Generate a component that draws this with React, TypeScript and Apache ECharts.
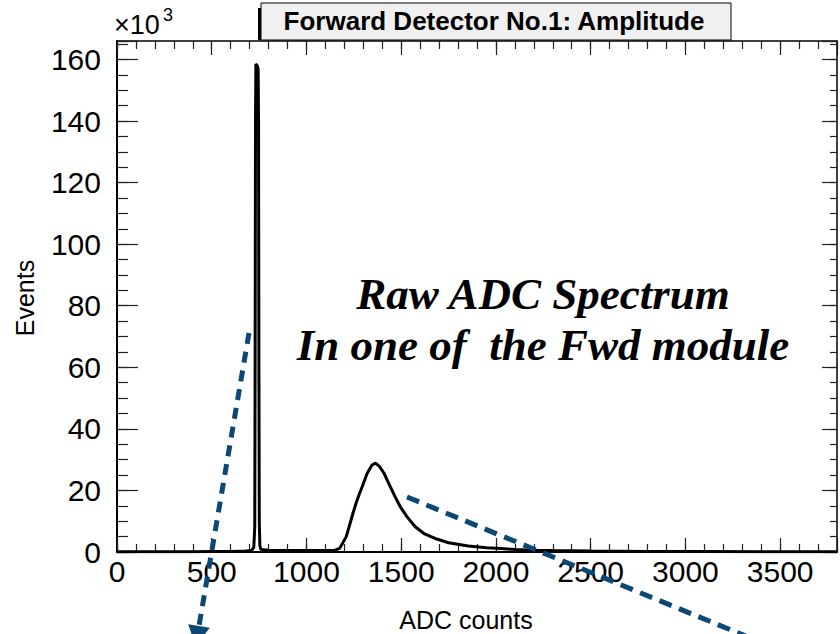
import React, { useEffect, useRef } from "react";
import * as echarts from "echarts";

// ADC channel (x) and events in thousands (y)
const adc = [
  0, 100, 200, 300, 400, 500, 600, 680, 710, 722, 727, 729, 731, 733, 740, 745, 747, 749, 751, 754, 760,
  800, 900, 1000, 1100, 1150, 1175, 1190, 1210, 1225, 1245, 1262, 1280, 1294, 1320, 1345, 1364, 1385,
  1410, 1434, 1465, 1495, 1530, 1574, 1620, 1679, 1750, 1854, 1950, 2028, 2100, 2200, 2300, 2500, 2800,
  3100, 3500, 3800,
];
const events = [
  0.1, 0.1, 0.1, 0.1, 0.1, 0.15, 0.2, 0.3, 0.5, 1.5, 8, 60, 140, 158.5, 158, 157, 140, 60, 10, 2, 0.8,
  0.6, 0.5, 0.5, 0.5, 0.6, 1.2, 2.8, 5, 8.2, 12.5, 15.9, 19, 21.2, 25.5, 28.2, 28.9, 27.8,
  25.5, 22.3, 18.3, 14.7, 11.5, 8.2, 6.0, 4.4, 3.0, 1.95, 1.4, 1.1, 0.8, 0.6, 0.45, 0.3, 0.2,
  0.15, 0.1, 0.08,
];

const xMin = 0;
const xMax = 3800;
const xMajor = 500;
const xMinor = 100;
const yMin = 0;
const yMax = 166;
const yMajor = 20;
const yMinor = 5;

const titleText = "Forward Detector No.1: Amplitude";
const xTitle = "ADC counts";
const yTitle = "Events";
const noteLine1 = "Raw ADC Spectrum";
const noteLine2 = "In one of  the Fwd module";

const SANS = "'Liberation Sans', Arial, Helvetica, sans-serif";
const SERIF = "'Liberation Serif', 'DejaVu Serif', serif";
const ARROW = "#0a4876";

export default function App() {
  const ref = useRef<HTMLDivElement>(null);
  useEffect(() => {
    if (!ref.current) return;
    const chart = echarts.init(ref.current, undefined, { renderer: "svg" });

    const xAx = (pos: string, interval: number, len: number, showLine: boolean, lineW: number, labels: boolean) => ({
      type: "value",
      position: pos,
      min: xMin,
      max: xMax,
      interval,
      axisLine: { show: showLine, onZero: false, lineStyle: { color: "#000", width: lineW } },
      axisTick: { show: true, inside: true, length: len, lineStyle: { color: "#222", width: 1.2 } },
      axisLabel: {
        show: labels,
        margin: 4,
        fontSize: 30,
        color: "#000",
        fontFamily: SANS,
        formatter: (v: number) => (v % xMajor === 0 ? String(v) : ""),
      },
      splitLine: { show: false },
    });
    const yAx = (pos: string, interval: number, len: number, showLine: boolean, lineW: number, labels: boolean) => ({
      type: "value",
      position: pos,
      min: yMin,
      max: yMax,
      interval,
      axisLine: { show: showLine, onZero: false, lineStyle: { color: "#000", width: lineW } },
      axisTick: { show: true, inside: true, length: len, lineStyle: { color: "#222", width: 1.2 } },
      axisLabel: {
        show: labels,
        margin: 16,
        fontSize: 30,
        color: "#000",
        fontFamily: SANS,
        formatter: (v: number) => (v % yMajor === 0 ? String(v) : ""),
      },
      splitLine: { show: false },
    });

    // arrow 1 geometry (annotation)
    const a1s = [249, 333];
    const a1e = [199, 626];
    const dx = a1e[0] - a1s[0];
    const dy = a1e[1] - a1s[1];
    const L = Math.hypot(dx, dy);
    const ux = dx / L;
    const uy = dy / L;
    const px = -uy;
    const py = ux;

    chart.setOption({
      animation: false,
      grid: { left: 117, right: 2, top: 41, bottom: 82, containLabel: false },
      xAxis: [
        xAx("bottom", xMajor, 14, true, 2, true),
        xAx("bottom", xMinor, 8, false, 1, false),
        xAx("top", xMajor, 14, true, 1.5, false),
        xAx("top", xMinor, 8, false, 1, false),
      ],
      yAxis: [
        yAx("left", yMajor, 21, true, 2, true),
        yAx("left", yMinor, 11, false, 1, false),
        yAx("right", yMajor, 15, true, 1.5, false),
        yAx("right", yMinor, 7, false, 1, false),
      ],
      series: [
        {
          type: "line",
          xAxisIndex: 0,
          yAxisIndex: 0,
          data: adc.map((x, i) => [x, events[i]]),
          symbol: "none",
          lineStyle: { color: "#000", width: 3 },
          clip: true,
          z: 5,
        },
      ],
      graphic: [
        // title box with shadow
        { type: "rect", shape: { x: 258, y: 8, width: 470, height: 32 }, style: { fill: "#000" }, z: 10 },
        {
          type: "rect",
          shape: { x: 261, y: 3, width: 470, height: 37 },
          style: { fill: "#f0f0f0", stroke: "#000", lineWidth: 1 },
          z: 11,
        },
        {
          type: "text",
          x: 494,
          y: 21,
          style: {
            text: titleText,
            font: `bold 26px ${SANS}`,
            fill: "#000",
            align: "center",
            verticalAlign: "middle",
          },
          z: 12,
        },
        // x10^3 multiplier
        {
          type: "text",
          x: 114,
          y: 38,
          style: { text: "×10", font: `27px ${SANS}`, fill: "#000", align: "left", verticalAlign: "bottom" },
          z: 12,
        },
        {
          type: "text",
          x: 163,
          y: 24,
          style: { text: "3", font: `18px ${SANS}`, fill: "#000", align: "left", verticalAlign: "bottom" },
          z: 12,
        },
        // axis titles
        {
          type: "text",
          x: 466,
          y: 620,
          style: { text: xTitle, font: `25px ${SANS}`, fill: "#000", align: "center", verticalAlign: "middle" },
          z: 12,
        },
        {
          type: "text",
          x: 25,
          y: 298,
          rotation: Math.PI / 2,
          style: { text: yTitle, font: `25px ${SANS}`, fill: "#000", align: "center", verticalAlign: "middle" },
          z: 12,
        },
        // annotation
        {
          type: "text",
          x: 543,
          y: 294,
          style: {
            text: noteLine1,
            font: `italic bold 45px ${SERIF}`,
            fill: "#000",
            align: "center",
            verticalAlign: "middle",
          },
          z: 12,
        },
        {
          type: "text",
          x: 543,
          y: 345,
          style: {
            text: noteLine2,
            font: `italic bold 45px ${SERIF}`,
            fill: "#000",
            align: "center",
            verticalAlign: "middle",
          },
          z: 12,
        },
        // dashed arrows
        {
          type: "line",
          shape: { x1: a1s[0], y1: a1s[1], x2: a1e[0], y2: a1e[1] },
          style: { stroke: ARROW, lineWidth: 5, lineDash: [11, 8] },
          z: 13,
        },
        {
          type: "polygon",
          shape: {
            points: [
              [a1e[0] + px * 11, a1e[1] + py * 11],
              [a1e[0] - px * 11, a1e[1] - py * 11],
              [a1e[0] + ux * 20, a1e[1] + uy * 20],
            ],
          },
          style: { fill: ARROW },
          z: 13,
        },
        {
          type: "line",
          shape: { x1: 407, y1: 497, x2: 770, y2: 646 },
          style: { stroke: ARROW, lineWidth: 5, lineDash: [13, 8] },
          z: 13,
        },
      ],
    });
    return () => chart.dispose();
  }, []);
  return <div ref={ref} style={{ width: 840, height: 634, position: "absolute", left: 0, top: 0 }} />;
}
